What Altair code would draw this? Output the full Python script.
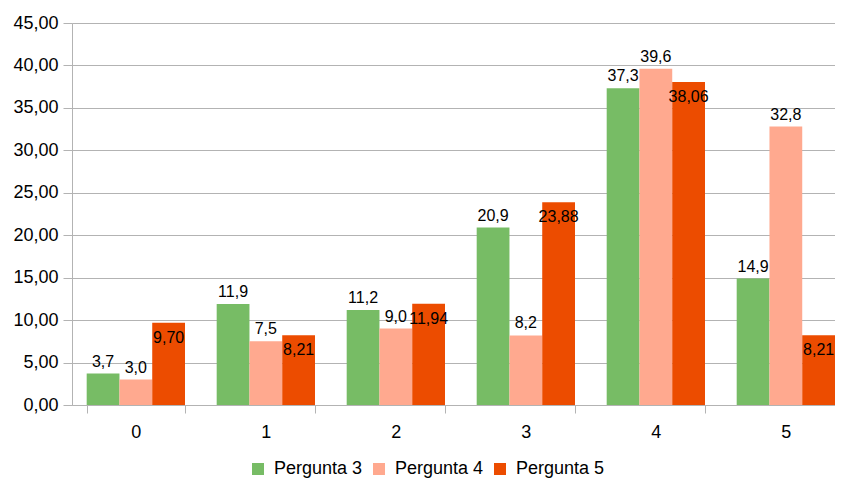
import altair as alt
import pandas as pd

categories = ["0", "1", "2", "3", "4", "5"]
series_names = ["Pergunta 3", "Pergunta 4", "Pergunta 5"]
p3 = [3.7, 11.9, 11.2, 20.9, 37.3, 14.9]
p4 = [3.0, 7.5, 9.0, 8.2, 39.6, 32.8]
p5 = [9.70, 8.21, 11.94, 23.88, 38.06, 8.21]
decimals = [1, 1, 2]
colors = ["#77bc65", "#ffa98f", "#ec4c00"]

rows = []
for name, vals, dec in zip(series_names, [p3, p4, p5], decimals):
    for c, v in zip(categories, vals):
        rows.append({"cat": c, "series": name, "value": v,
                     "label": f"{v:.{dec}f}".replace(".", ",")})
df = pd.DataFrame(rows)

FONT = "Liberation Sans"
GRID = "#b3b3b3"

x_enc = alt.X("cat:N", sort=categories,
              scale=alt.Scale(paddingInner=0.2438, paddingOuter=0.0565, align=1.0),
              axis=alt.Axis(title=None, labelAngle=0, tickBand="extent", grid=False,
                            domainColor=GRID, tickColor=GRID, tickSize=8,
                            labelPadding=10, labelFontSize=18, labelColor="#000000",
                            labelFont=FONT))
xo_enc = alt.XOffset("series:N", sort=series_names,
                     scale=alt.Scale(paddingInner=0, paddingOuter=0))
y_scale = alt.Scale(domain=[0, 45], nice=False)

base = alt.Chart(df)

bars = base.mark_bar().encode(
    x=x_enc,
    xOffset=xo_enc,
    y=alt.Y("value:Q", scale=y_scale,
            axis=alt.Axis(title=None, values=list(range(0, 50, 5)),
                          labelExpr="replace(format(datum.value, '.2f'), '.', ',')",
                          grid=True, gridColor=GRID, domainColor=GRID, tickColor=GRID,
                          tickSize=9, labelPadding=5, labelFontSize=18,
                          labelColor="#000000", labelFont=FONT)),
    color=alt.Color("series:N", sort=series_names,
                    scale=alt.Scale(domain=series_names, range=colors),
                    legend=alt.Legend(title=None, orient="none", direction="horizontal",
                                      legendX=177, legendY=437, symbolType="square",
                                      symbolSize=144, symbolStrokeWidth=0,
                                      labelFontSize=18, labelFont=FONT,
                                      labelColor="#000000", labelOffset=7,
                                      columnPadding=7, padding=0)),
)

above = base.transform_filter(alt.datum.series != "Pergunta 5").mark_text(
    baseline="alphabetic", dy=-7, fontSize=16, font=FONT, color="#000000"
).encode(x=alt.X("cat:N", sort=categories), xOffset=xo_enc,
         y=alt.Y("value:Q", scale=y_scale), text="label:N")

inside = base.transform_filter(alt.datum.series == "Pergunta 5").mark_text(
    baseline="alphabetic", dy=20, fontSize=16, font=FONT, color="#000000"
).encode(x=alt.X("cat:N", sort=categories), xOffset=xo_enc,
         y=alt.Y("value:Q", scale=y_scale), text="label:N")

chart = alt.layer(bars, above, inside).properties(
    width=763, height=382,
    autosize=alt.AutoSizeParams(type="none"),
    padding={"left": 64, "top": 15, "right": 0, "bottom": 73},
).configure_view(stroke=None).configure(font=FONT)

chart.save("out.html", embed_options={"renderer": "svg", "actions": False})
